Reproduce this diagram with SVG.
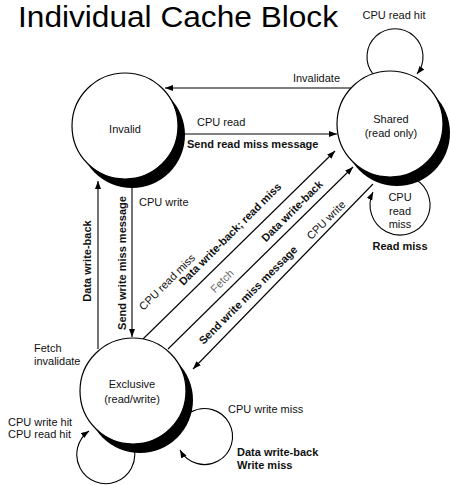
<svg xmlns="http://www.w3.org/2000/svg" width="451" height="485" viewBox="0 0 451 485">
<defs>
<style>
text{font-family:"Liberation Sans",Arial,sans-serif;font-size:11px;fill:#111}
.b{font-weight:bold}
.t{font-size:29px;fill:#000}
.g{fill:#666}
.m{text-anchor:middle}
.ln{fill:none;stroke:#000;stroke-width:1.1}
.shadow{fill:#000}
.node{fill:#fff;stroke:#000;stroke-width:1.2}
</style>
<marker id="ah" markerUnits="userSpaceOnUse" markerWidth="9" markerHeight="7" refX="8" refY="3" orient="auto">
<path d="M0,0 L8,3 L0,6 z" fill="#000"/>
</marker>
</defs>
<rect width="451" height="485" fill="#fff"/>
<text class="t" x="18" y="27" textLength="320" lengthAdjust="spacingAndGlyphs">Individual Cache Block</text>

<g id="connectors">
<!-- Invalidate -->
<line class="ln" x1="352" y1="88" x2="165" y2="88" marker-end="url(#ah)"/>
<text x="340" y="82" text-anchor="end">Invalidate</text>
<!-- CPU read -->
<line class="ln" x1="184" y1="134" x2="337" y2="134" marker-end="url(#ah)"/>
<text x="197" y="126">CPU read</text>
<text class="b" x="187" y="148">Send read miss message</text>
<!-- CPU write: Invalid -> Exclusive -->
<line class="ln" x1="132" y1="188" x2="132" y2="337" marker-end="url(#ah)"/>
<text x="139" y="206">CPU write</text>
<text class="b m" transform="translate(122 263) rotate(-90)" dy=".35em">Send write miss message</text>
<!-- Exclusive -> Invalid -->
<line class="ln" x1="98" y1="349" x2="98" y2="181" marker-end="url(#ah)"/>
<text class="b m" transform="translate(87 261) rotate(-90)" dy=".35em">Data write-back</text>
<text x="34" y="352">Fetch</text>
<text x="34" y="365">invalidate</text>
<!-- line a: Exclusive -> Shared (CPU read miss) -->
<line class="ln" x1="143" y1="339" x2="335" y2="151" marker-end="url(#ah)"/>
<text class="m" transform="translate(167 282) rotate(-45)" dy=".35em">CPU read miss</text>
<text class="b m" transform="translate(230 234) rotate(-45)" dy=".35em">Data write-back; read miss</text>
<!-- line b: Exclusive -> Shared (Fetch) -->
<line class="ln" x1="168" y1="349" x2="353" y2="167" marker-end="url(#ah)"/>
<text class="g m" transform="translate(222 281) rotate(-45)" dy=".35em">Fetch</text>
<text class="b m" transform="translate(292 211) rotate(-45)" dy=".35em">Data write-back</text>
<!-- line c: Shared -> Exclusive (CPU write) -->
<line class="ln" x1="373" y1="184" x2="193" y2="369" marker-end="url(#ah)"/>
<text class="b m" transform="translate(248 295) rotate(-45)" dy=".35em">Send write miss message</text>
<text class="m" transform="translate(326 220) rotate(-45)" dy=".35em">CPU write</text>
<!-- Shared top loop -->
<path class="ln" d="M373 74 A28 28 0 1 1 417 74" marker-end="url(#ah)"/>
<text class="m" x="394" y="19">CPU read hit</text>
<!-- Shared bottom loop -->
<path class="ln" d="M415 179 A30 30 0 1 1 373 192" marker-end="url(#ah)"/>
<text class="m" x="400" y="201">CPU</text>
<text class="m" x="400" y="215">read</text>
<text class="m" x="400" y="228">miss</text>
<text class="b m" x="400" y="250">Read miss</text>
<!-- Exclusive left loop -->
<path class="ln" d="M134 448 A29 29 0 1 1 89 431" marker-end="url(#ah)"/>
<text x="8" y="426">CPU write hit</text>
<text x="8" y="438">CPU read hit</text>
<!-- Exclusive right loop -->
<path class="ln" d="M191 412 A28 28 0 1 1 180 450" marker-end="url(#ah)"/>
<text x="228" y="413">CPU write miss</text>
<text class="b" x="237" y="456">Data write-back</text>
<text class="b" x="237" y="469">Write miss</text>
</g>

<g id="invalid">
<circle class="shadow" cx="132" cy="135" r="53"/>
<circle class="node" cx="125" cy="126" r="53"/>
<text class="m" x="125" y="133">Invalid</text>
</g>
<g id="shared">
<circle class="shadow" cx="397" cy="133" r="53"/>
<circle class="node" cx="390" cy="124" r="53"/>
<text class="m" x="391" y="123">Shared</text>
<text class="m" x="391" y="137">(read only)</text>
</g>
<g id="exclusive">
<circle class="shadow" cx="140" cy="400" r="53"/>
<circle class="node" cx="133" cy="391" r="53"/>
<text class="m" x="132" y="388">Exclusive</text>
<text class="m" x="132" y="403">(read/write)</text>
</g>
</svg>
